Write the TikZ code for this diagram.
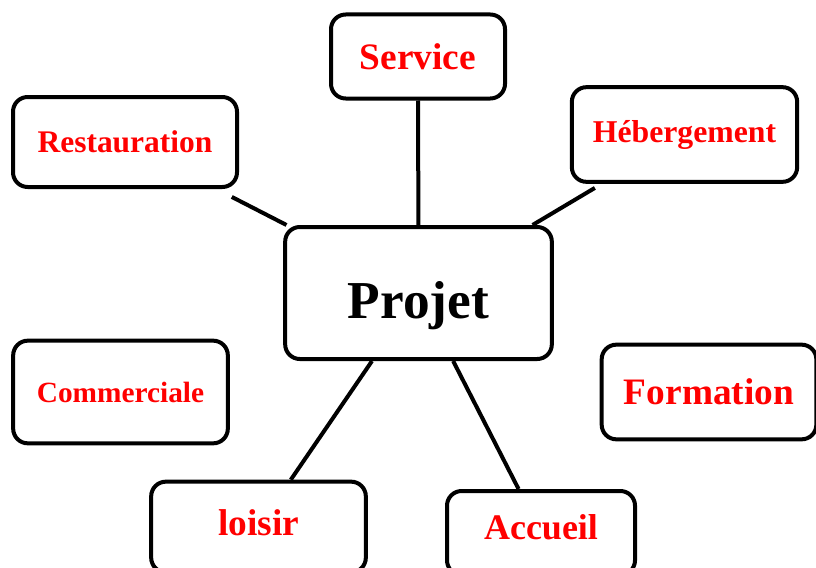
\documentclass[tikz,border=0pt]{standalone}
\usepackage{fontspec}
\setmainfont{Liberation Serif}
\usetikzlibrary{positioning}

\tikzset{
  boite/.style={draw, line width=3pt, rounded corners=11pt, inner sep=0pt, align=center, font=\bfseries},
  lien/.style={line width=3pt}
}

\begin{document}
\begin{tikzpicture}[x=0.75pt, y=-0.75pt]
\useasboundingbox (0,0) rectangle (816,567);
% Noeud central
\node[boite, minimum width=200pt, minimum height=99pt, text height=37.5pt, text depth=0pt, font=\bfseries\fontsize{40}{44}\selectfont] (projet) at (418.5,293) {Projet};
% Branches
\node[boite, minimum width=130.5pt, minimum height=63pt, text=red, font=\bfseries\fontsize{28}{32}\selectfont] (service) at (418,56.5) {Service};
\node[boite, minimum width=168pt, minimum height=67.5pt, text=red, font=\bfseries\fontsize{23.6}{27}\selectfont] (resto) at (125,142) {Restauration};
\node[boite, minimum width=169pt, minimum height=71pt, text=red, font=\bfseries\fontsize{23.8}{27}\selectfont] (heberg) at (684.5,134.5) {Hébergement};
\node[boite, minimum width=161pt, minimum height=77pt, text=red, font=\bfseries\fontsize{22}{25}\selectfont] (commerc) at (120.5,392) {Commerciale};
\node[boite, minimum width=161pt, minimum height=71pt, text=red, font=\bfseries\fontsize{28}{32}\selectfont] (formation) at (709,392) {Formation};
\node[boite, minimum width=161pt, minimum height=68pt, text depth=6pt, text=red, font=\bfseries\fontsize{28}{32}\selectfont] (loisir) at (258.5,527) {loisir};
\node[boite, minimum width=141pt, minimum height=63pt, text depth=9pt, text=red, font=\bfseries\fontsize{27}{31}\selectfont] (accueil) at (541,533) {Accueil};
% Liens
\draw[lien] (service) -- (projet);
\draw[lien, shorten <=13pt] (resto) -- (projet);
\draw[lien, shorten <=6pt] (heberg) -- (projet);
\draw[lien] (projet) -- (loisir);
\draw[lien] (projet) -- (accueil);
\end{tikzpicture}
\end{document}
